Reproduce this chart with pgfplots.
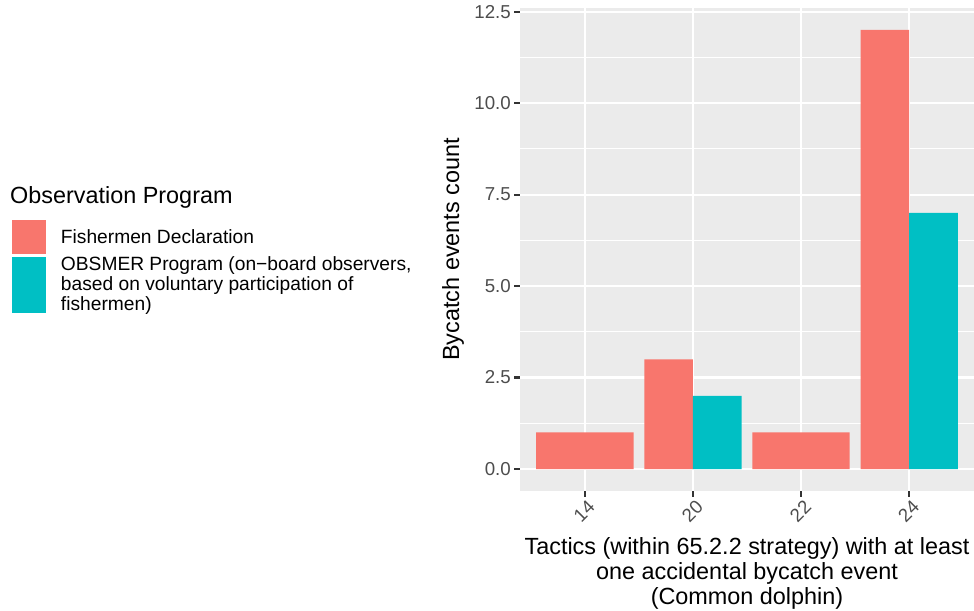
\documentclass[border=0pt]{standalone}
\usepackage{pgfplots}
\pgfplotsset{compat=1.18}
\usepackage{fontspec}
\setmainfont{Liberation Sans}
\definecolor{ggred}{HTML}{F8766D}
\definecolor{ggteal}{HTML}{00BFC4}
\definecolor{ggpanel}{HTML}{EBEBEB}
\definecolor{ggtick}{HTML}{333333}
\definecolor{gglab}{HTML}{4D4D4D}
\begin{document}
\begin{tikzpicture}[x=1bp,y=1bp]
\useasboundingbox (0,0) rectangle (974,611);
\node[anchor=west, inner sep=0pt, font=\fontsize{23.4bp}{28bp}\selectfont] at (10,414) {Observation Program};
\begin{axis}[
  at={(520bp,120bp)}, anchor=south west,
  scale only axis, width=454bp, height=483bp,
  xmin=0.4, xmax=4.6, ymin=-0.6, ymax=12.6,
  axis background/.style={fill=ggpanel},
  axis line style={draw=none},
  xtick={1,2,3,4}, xticklabels={14,20,22,24},
  ytick={0,2.5,5,7.5,10,12.5}, yticklabels={0.0,2.5,5.0,7.5,10.0,12.5},
  minor ytick={1.25,3.75,6.25,8.75,11.25},
  xmajorgrids, ymajorgrids, yminorgrids,
  major grid style={white, line width=2.2bp},
  minor grid style={white, line width=1.1bp},
  tick align=outside, major tick length=6bp, minor tick length=0pt,
  major tick style={ggtick, line width=2.2bp},
  tick pos=left,
  /pgf/number format/assume math mode=true,
  yticklabel style={font=\fontsize{18.7bp}{22bp}\selectfont, text=gglab, inner sep=0pt, xshift=-3bp},
  xticklabel style={font=\fontsize{18.7bp}{22bp}\selectfont, text=gglab, rotate=45, anchor=north east, inner sep=0pt, yshift=-3bp},
  xlabel={Tactics (within 65.2.2 strategy) with at least\\one accidental bycatch event\\(Common dolphin)},
  xlabel style={at={(axis description cs:0.5,-0.0952)}, anchor=north, align=center, inner sep=0pt,
    font=\fontsize{23.4bp}{25bp}\selectfont},
  ylabel={Bycatch events count},
  ylabel style={at={(axis description cs:-0.1476,0.5)}, anchor=center, inner sep=0pt,
    font=\fontsize{23.4bp}{25bp}\selectfont},
  legend style={at={(axis description cs:-1.119,0.5611)}, anchor=north west, draw=none, fill=none,
    inner sep=0pt, outer sep=0pt, row sep=1bp, column sep=13bp,
    font=\fontsize{19.2bp}{20bp}\selectfont, cells={anchor=west, align=left, inner sep=0pt}},
  legend cell align=left,
]
\addplot[ybar, bar width=0.9, bar shift=0pt, fill=ggred, draw=none,
  legend image code/.code={\fill[ggred] (0bp,-17bp) rectangle (34bp,17bp);}]
  coordinates {(1,1) (3,1)};
\addlegendentry{Fishermen Declaration}
\addplot[ybar, bar width=0.45, bar shift=0pt, fill=ggred, draw=none, forget plot]
  coordinates {(1.775,3) (3.775,12)};
\addplot[ybar, bar width=0.45, bar shift=0pt, fill=ggteal, draw=none,
  legend image code/.code={\fill[ggteal] (0bp,-28bp) rectangle (34bp,28bp);}]
  coordinates {(2.225,2) (4.225,7)};
\addlegendentry{OBSMER Program (on−board observers,\\based on voluntary participation of\\fishermen)}
\end{axis}
\end{tikzpicture}
\end{document}
